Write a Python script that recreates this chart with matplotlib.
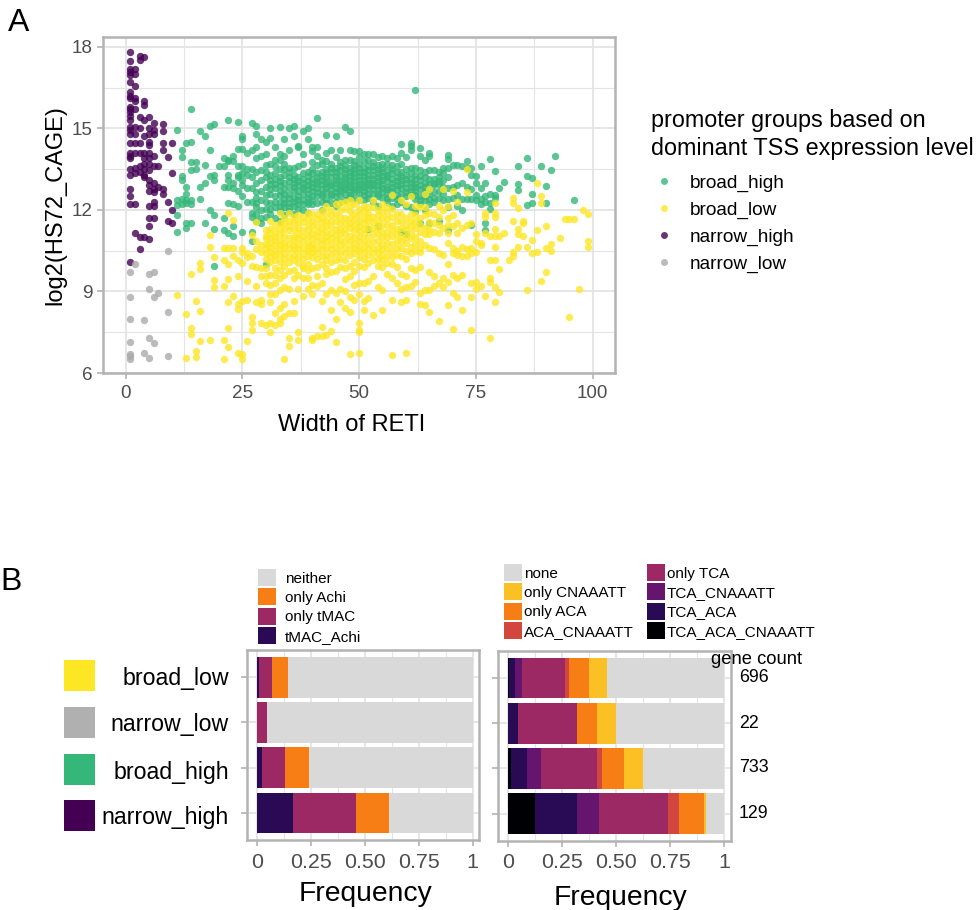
import matplotlib
matplotlib.use("Agg")
import matplotlib.pyplot as plt
from matplotlib.lines import Line2D
from matplotlib.patches import Patch, Rectangle

plt.rcParams['font.family'] = ['Liberation Sans', 'DejaVu Sans']

W, H = 980, 910

# ---------- scatter data: width of RETI -> log2(HS72_CAGE) values ----------
broad_high = {
 11:[14.94,12.37,12.18,11.8,11.2], 12:[14.2,13.96,12.4,12.2,13.25,13.1],
 13:[14.47,12.85,12.6,12.37,12.25,11.5,11.35], 14:[15.7,14.49,13.75,13.45,12.37,12.2,11.5],
 15:[13.75,13.5], 16:[14.9,12.85,12.4], 17:[14.7,13.65,13.0,11.5], 18:[15.1,14.2,13.25,12.0],
 19:[15.15,13.3,13.1,11.8,11.3,9.95], 20:[13.6], 21:[13.6,13.9,11.7,11.25,12.85],
 22:[15.3,13.85,13.8,13.3,13.1,12.85,12.25,11.15], 23:[14.0,13.8,13.0,12.8,12.2,11.4,11.05],
 24:[15.25,14.25,13.6,13.3,13.2,12.7,12.15], 25:[14.7,14.6,14.25,13.6,13.35,13.1,12.9,12.5,11.2],
 26:[14.1,13.5,13.3,12.8,12.3], 27:[15.2,14.2,13.5,13.2,12.8,12.3,11.9,11.75,11.2,10.85],
 28:[15.1,14.8,14.3,13.9,13.4,13.0,12.45,12.25,11.85,11.6,12.65,12.1], 29:[14.6,14.0,13.1,12.7,12.0,11.7,11.5,13.45,12.35],
 30:[14.5,14.05,13.65,13.2,12.85,12.55,12.05,11.75,10.0,13.4,12.3], 31:[15.0,14.65,13.7,13.3,12.95,12.6,12.25,11.85,13.1,12.75,12.05],
 32:[14.3,13.85,13.6,13.15,12.8,12.5,12.1,11.7,13.35,12.95,12.3], 33:[15.05,14.05,13.85,13.5,13.2,12.9,12.55,12.3,11.95,11.6,13.05,12.7,12.1],
 34:[14.6,14.0,13.7,13.3,13.0,12.75,12.4,12.1,11.8,13.5,12.6,12.25], 35:[15.0,14.2,13.55,13.2,12.85,12.6,12.25,11.95,13.4,13.05,12.45,12.1],
 36:[15.1,14.7,13.3,13.0,12.7,12.45,12.15,11.85,13.55,13.15,12.85,12.3], 37:[14.35,14.3,13.6,13.2,12.9,12.5,12.2,13.05,12.7,12.35,12.05],
 38:[14.9,14.05,13.7,13.35,12.85,12.6,12.35,12.0,13.15,13.0,12.75,12.2], 39:[15.0,14.6,13.4,13.05,12.75,12.45,12.2,11.9,13.25,12.9,12.6,12.3],
 40:[14.3,14.15,13.75,13.35,13.0,12.7,12.5,12.2,13.5,13.15,12.85,12.35], 41:[15.37,14.3,14.0,13.35,13.05,12.8,12.5,12.25,13.65,13.2,12.95,12.65],
 42:[13.7,13.4,13.1,12.75,12.5,12.3,12.0,13.85,13.25,12.95,12.6], 43:[14.75,14.1,13.8,13.5,13.2,12.95,12.65,12.4,13.35,13.05,12.8,12.25],
 44:[14.2,13.7,13.4,13.0,12.75,12.5,12.25,13.55,13.2,12.9,12.6], 45:[14.7,13.95,13.55,13.25,13.0,12.8,12.5,12.3,13.4,13.1,12.65,12.15],
 46:[14.2,13.75,13.45,13.05,12.8,12.55,12.3,13.6,13.25,12.95,12.7], 47:[15.05,13.65,13.35,13.1,12.85,12.6,12.35,13.85,13.5,13.2,12.95,12.75],
 48:[14.9,14.2,13.85,13.55,13.25,12.95,12.7,12.45,13.4,13.1,12.85,12.55], 49:[14.15,13.8,13.5,13.2,12.9,12.65,12.4,13.65,13.35,13.05,12.75],
 50:[14.15,13.95,13.7,13.4,13.1,12.85,12.6,12.35,13.55,13.25,12.95,12.75], 51:[14.05,13.8,13.55,13.25,12.95,12.7,12.35,13.4,13.1,12.85,12.55],
 52:[14.05,13.85,13.6,13.3,13.0,12.75,12.45,11.3,13.45,13.15,12.9,12.6], 53:[14.05,13.75,13.45,13.15,12.9,12.6,12.3,13.6,13.3,13.0,12.75],
 54:[13.95,13.65,13.35,13.05,12.75,12.5,12.15,11.4,13.5,13.2,12.9,12.6], 55:[14.0,13.7,13.4,13.1,12.8,12.45,13.55,13.25,12.95,12.65],
 56:[13.7,13.45,13.2,12.85,12.6,12.3,13.9,13.3,13.05,12.75,12.45], 57:[14.0,13.65,13.35,13.0,12.7,12.45,12.15,13.5,13.15,12.85],
 58:[13.9,13.6,13.2,12.9,12.55,12.2,13.4,13.05,12.75,12.4], 59:[14.44,14.1,13.7,13.25,12.95,12.6,12.3,11.2,13.4,13.1,12.8],
 60:[13.95,13.5,13.15,12.8,12.5,12.15,11.1,13.3,13.0,12.65], 61:[14.47,14.35,14.2,13.55,13.15,12.85,12.55,12.1,13.35,13.0,12.7],
 62:[16.42,13.55,13.3,12.95,12.7,12.4,11.95,13.15,12.85,12.55], 63:[14.27,14.0,13.45,13.1,12.75,12.5,12.2,11.5,13.25,12.9,12.35],
 64:[13.85,13.4,13.0,12.7,12.35,12.0,13.2,12.85,12.5], 65:[14.1,14.0,13.45,13.15,12.95,12.75,12.4,11.5,12.6,12.2],
 66:[13.45,13.15,12.9,12.65,12.3,13.0,12.45], 67:[13.4,13.2,12.95,12.45,11.6,13.05,12.7], 68:[13.55,13.35,13.1,12.6,12.35,12.85],
 69:[14.02,13.87,13.55,13.2,12.8,12.4,12.1,11.25], 70:[13.65,12.85,12.45], 71:[13.65,12.9,12.55,12.15],
 72:[13.63,13.0,12.4,12.0], 73:[13.8,13.55,12.85,12.4], 74:[13.55,13.3,12.75,12.4,11.45],
 75:[13.25,13.0,12.55,12.35], 76:[13.63,12.8,12.4,12.2], 77:[12.98,12.5,12.3,11.5,11.26],
 78:[13.87,12.6,12.25,12.03], 79:[13.42,12.55,12.43], 80:[12.8], 81:[13.02],
 84:[13.63,12.94,12.73], 86:[13.9,13.26,12.17], 87:[13.16,12.6,12.27], 89:[13.63],
 90:[12.86,12.27], 91:[13.45], 92:[13.97], 96:[12.38],
}
broad_low = {
 11:[8.87], 13:[8.17,6.55], 14:[9.64,7.65,7.45], 15:[8.66,6.8,6.6], 16:[10.04,9.82,8.27,7.18],
 18:[11.06,10.65,7.2], 19:[10.25,9.43,9.18], 21:[10.6,10.17,9.2,7.2,6.5],
 22:[11.9,10.6,10.0,9.45,8.6,7.65,6.95], 23:[11.63,10.6,10.3,8.85], 24:[10.15,9.55,8.55,8.35,6.75],
 25:[10.6,10.45,10.05,8.65,6.7,6.5], 26:[10.4,10.25,9.4,8.7,7.18], 27:[11.08,10.3,9.95,8.05,7.85,7.6],
 28:[11.55,10.55,9.9,9.2,8.6,10.85], 29:[10.45,9.85,9.55,8.7,8.55,7.85,10.7],
 30:[11.25,10.75,10.6,9.85,9.55,9.3,7.75,11.05,10.95,10.4,10.2],
 31:[11.6,10.95,10.8,10.45,10.1,9.6,9.25,8.9,8.6,7.85,7.5,11.3,11.15,10.65,10.3],
 32:[10.9,10.5,10.15,9.6,9.3,8.9,8.2,7.75,11.45,11.2,11.0,10.7,10.35,9.85],
 33:[11.9,11.1,10.85,10.55,10.1,9.5,9.05,8.4,8.0,7.85,11.5,11.3,10.7,10.35,9.8],
 34:[11.3,10.8,10.65,9.95,9.6,9.15,8.55,8.1,6.5,11.7,11.5,11.05,10.4,10.2],
 35:[11.9,11.25,10.95,10.55,10.1,9.75,9.1,8.2,7.3,7.0,11.6,11.4,10.75,10.3],
 36:[11.55,11.05,10.7,10.35,9.8,9.5,8.65,8.2,11.75,11.3,10.9,10.55,10.15],
 37:[11.8,11.1,10.75,10.05,9.6,9.1,7.5,7.2,11.55,11.35,10.95,10.55,10.3],
 38:[11.75,11.25,10.85,10.6,9.85,9.5,8.85,11.55,11.05,10.4,10.2,9.95],
 39:[11.65,11.25,10.8,10.5,9.5,9.1,11.9,11.45,11.05,10.65,10.3,10.0,9.8],
 40:[11.4,11.15,10.75,10.45,9.85,9.25,8.9,7.3,7.2,11.85,11.6,10.95,10.6,10.25],
 41:[11.85,11.4,11.05,10.6,10.2,9.2,7.35,11.65,11.2,10.85,10.4,9.9,9.55],
 42:[11.7,11.35,10.9,10.55,10.0,9.3,8.65,7.7,7.35,11.95,11.55,11.15,10.75,10.3],
 43:[12.15,11.6,11.2,10.85,10.15,9.65,8.9,7.4,11.85,11.4,11.0,10.6,10.35,9.85],
 44:[11.6,11.15,10.75,10.35,9.7,9.05,8.3,7.55,12.0,11.8,11.4,10.95,10.55,10.1],
 45:[12.2,11.85,11.3,10.9,10.4,9.75,8.95,8.0,7.15,11.6,11.1,10.65,10.15],
 46:[12.25,11.5,11.1,10.7,10.2,9.9,9.1,8.6,12.0,11.75,11.3,10.9,10.45],
 47:[12.3,11.7,11.3,10.85,10.4,9.45,9.0,8.4,12.05,11.5,11.1,10.65,10.15,9.85],
 48:[12.35,11.95,11.35,11.05,10.6,9.95,9.55,8.8,8.25,6.7,12.15,11.7,11.5,10.85,10.35],
 49:[11.85,11.45,11.0,10.6,9.75,9.25,8.7,12.2,11.65,11.25,10.8,10.4,10.1],
 50:[12.35,12.05,11.6,11.25,10.85,10.5,9.95,9.3,8.9,7.85,7.6,7.5,6.73,11.85,11.4,11.05,10.65,10.25],
 51:[12.15,11.7,11.3,10.85,10.45,9.9,9.3,8.65,8.3,11.95,11.5,11.1,10.65,10.2],
 52:[11.9,11.6,11.05,10.6,10.05,9.4,8.75,12.1,11.75,11.35,10.8,10.35],
 53:[12.35,11.75,11.35,10.85,10.4,9.55,8.15,12.1,11.55,11.1,10.6,10.15],
 54:[12.0,11.55,11.1,10.6,10.2,9.95,9.15,11.8,11.35,10.85,10.4],
 55:[11.95,11.45,11.0,10.55,10.15,9.9,9.05,8.3,12.2,11.7,11.2,10.75,10.35],
 56:[12.1,11.65,11.2,10.8,10.3,9.65,11.9,11.45,11.0,10.55,10.05],
 57:[12.55,12.05,11.45,11.05,10.5,10.0,9.5,8.7,6.66,11.75,11.25,10.75,10.25],
 58:[11.85,11.3,10.85,10.35,9.9,9.3,11.6,11.1,10.6],
 59:[12.35,11.6,11.05,10.6,9.65,9.1,8.6,11.85,11.35,10.85,10.3],
 60:[12.2,11.7,11.25,10.8,10.2,9.55,9.15,8.67,6.73,11.45,11.0,10.5],
 61:[12.5,11.85,11.4,10.95,10.4,9.85,9.2,11.6,11.15,10.65],
 62:[11.8,11.35,11.0,10.5,9.8,9.35,12.15,11.55,10.75],
 63:[12.1,11.2,10.85,10.45,9.9,8.95,8.55,11.7,11.45,10.6],
 64:[12.6,12.1,11.1,10.7,9.05,8.5,11.8,11.35],
 65:[12.75,11.9,11.3,10.6,9.7,9.05,8.25,11.55,11.1],
 66:[11.85,11.2,10.55,9.55,9.2,11.5], 67:[12.15,11.75,11.15,10.4,9.3,7.9,11.45],
 68:[12.75,12.0,11.35,10.35,9.5,9.15], 69:[12.15,11.7,11.15,10.8,10.0,9.35,8.5,11.45],
 70:[12.7,11.4,10.6,10.4,9.6,8.95,7.63,11.8], 71:[12.3,11.5,10.5,10.35,9.5,8.8,11.15],
 72:[11.35,10.65,10.3,9.6,8.3], 73:[13.5,12.65,11.45,10.55,10.3],
 74:[11.5,10.6,10.4,9.3,8.8,7.6], 75:[11.1,10.85,10.45,9.35,9.1], 76:[10.8,10.7,9.2],
 77:[11.9,11.75,11.15,8.85], 78:[11.05,10.17,9.5,9.33,7.3], 79:[12.27,11.9,11.75,11.3,11.05,10.65,10.14,9.15,8.6],
 80:[11.05,9.83,8.97], 81:[11.15], 82:[10.17], 83:[12.45,12.25,11.6,10.45,10.3], 84:[12.06,11.3,11.1,10.65],
 85:[11.6,11.5,11.05], 86:[10.65,9.05], 87:[10.9,10.4], 88:[13.0,11.25,10.45], 89:[12.5,12.27,9.4],
 90:[11.4,10.6,9.7], 91:[10.75,10.47], 93:[10.95], 94:[11.65], 95:[11.65,8.05], 96:[11.65], 97:[9.1],
 98:[12.0], 99:[11.85,10.85,10.65],
}
narrow_high = {
 1:[17.82,17.47,17.2,17.08,16.97,16.7,16.35,16.2,16.1,15.8,15.7,15.6,15.45,15.3,15.05,14.95,14.8,14.45,14.1,14.0,13.9,13.5,13.3,12.75,12.5,12.2,10.1],
 2:[17.2,17.0,16.55,16.1,16.0,15.72,15.05,14.8,14.45,14.1,13.55,13.35,12.2,11.15],
 3:[17.65,17.5,15.4,15.0,14.45,14.1,13.6,13.4,11.0,10.55],
 4:[17.62,16.0,15.85,15.3,14.7,14.1,13.9,13.7,13.5,13.3,13.2,11.0],
 5:[15.4,15.0,14.8,14.5,14.4,14.1,13.9,13.7,13.45,13.1,12.9,12.7,12.15,11.7,11.4,10.93],
 6:[15.2,14.95,14.8,14.0,13.6,13.0,12.75,12.65,12.3,12.15,11.7],
 7:[13.6,12.85], 8:[15.15,14.9,14.45,14.2,12.75,12.6], 9:[13.95,12.3,11.6], 10:[14.45,13.35,12.0,11.5],
}
narrow_low = {
 1:[9.7,8.79,7.98,7.14,6.71,6.61,6.53], 2:[10.02], 4:[7.94,6.73], 5:[9.65,9.09,7.29,6.55],
 6:[9.7,8.78,7.1], 7:[8.94], 9:[10.47,8.24,6.61],
}
group_names = ['broad_high', 'broad_low', 'narrow_high', 'narrow_low']
group_colors = ['#35b779', '#fde725', '#440154', '#aaaaaa']
x_ticks = [0, 25, 50, 75, 100]
y_ticks = [6, 9, 12, 15, 18]

# ---------- stacked bars ----------
row_labels = ['narrow_high', 'broad_high', 'narrow_low', 'broad_low']
row_colors = ['#440154', '#35b779', '#b0b0b0', '#fde725']
gene_counts = [129, 733, 22, 696]
freq_ticks = [0, 0.25, 0.5, 0.75, 1]
freq_labels = ['0', '0.25', '0.50', '0.75', '1']

left_names = ['tMAC_Achi', 'only tMAC', 'only Achi', 'neither']
left_colors = ['#2a0a55', '#9c2963', '#f67e14', '#d9d9d9']
tmac_achi = [0.165, 0.022, 0.0, 0.008]
only_tmac = [0.293, 0.106, 0.045, 0.060]
only_achi = [0.153, 0.112, 0.0, 0.076]
neither = [0.389, 0.760, 0.955, 0.856]
left_values = [tmac_achi, only_tmac, only_achi, neither]

right_names = ['TCA_ACA_CNAAATT', 'TCA_ACA', 'TCA_CNAAATT', 'only TCA',
               'ACA_CNAAATT', 'only ACA', 'only CNAAATT', 'none']
right_colors = ['#000004', '#280b54', '#65156e', '#9c2963',
                '#d3463e', '#f67e14', '#fbc024', '#d9d9d9']
tca_aca_cn = [0.125, 0.014, 0.0, 0.004]
tca_aca = [0.195, 0.074, 0.046, 0.024]
tca_cn = [0.098, 0.061, 0.0, 0.037]
only_tca = [0.320, 0.260, 0.274, 0.195]
aca_cn = [0.051, 0.023, 0.0, 0.019]
only_aca = [0.117, 0.102, 0.089, 0.093]
only_cn = [0.009, 0.088, 0.091, 0.083]
none_ = [0.085, 0.378, 0.500, 0.545]
right_values = [tca_aca_cn, tca_aca, tca_cn, only_tca, aca_cn, only_aca, only_cn, none_]

GRID = '#e4e4e4'
BORDER = '#b3b3b3'
TICK = '#4d4d4d'

fig = plt.figure(figsize=(W / 100, H / 100), dpi=100, facecolor='white')

def make_ax(x0, x1, ytop, ybot):
    return fig.add_axes([x0 / W, 1 - ybot / H, (x1 - x0) / W, (ybot - ytop) / H])

def style(ax, lw=1.8):
    ax.set_axisbelow(True)
    for s in ax.spines.values():
        s.set_color(BORDER)
        s.set_linewidth(lw)
    ax.grid(True, which='major', color=GRID, lw=1.3)
    ax.grid(True, which='minor', color=GRID, lw=0.8)

# ---------- panel A ----------
ax = make_ax(102.7, 615, 36.7, 373)
style(ax)
groups = [broad_high, broad_low, narrow_high, narrow_low]
handles = []
for data, name, col in zip(groups, group_names, group_colors):
    xs = [x for x, ys in data.items() for _ in ys]
    ys = [y for v in data.values() for y in v]
    ax.scatter(xs, ys, s=28, color=col, alpha=0.8, linewidths=0, zorder=3)
    handles.append(Line2D([], [], ls='', marker='o', ms=5, mew=0, color=col, alpha=0.8, label=name))
ax.set_xlim(-4.93, 104.8)
ax.set_ylim(6.0, 18.37)
ax.set_xticks(x_ticks)
ax.set_yticks(y_ticks)
ax.set_xticks([12.5, 37.5, 62.5, 87.5], minor=True)
ax.set_yticks([7.5, 10.5, 13.5, 16.5], minor=True)
ax.tick_params(which='minor', length=0)
ax.tick_params(axis='x', which='major', length=4, color=BORDER, width=1.2, labelsize=13.6, labelcolor=TICK, pad=5)
ax.tick_params(axis='y', which='major', length=4, color=BORDER, width=1.2, labelsize=13.6, labelcolor=TICK, pad=3)
ax.set_xlabel('Width of RETI', fontsize=17, color='black', labelpad=8, x=0.4856)
ax.set_ylabel('log2(HS72_CAGE)', fontsize=17, color='black', labelpad=4)
leg = fig.legend(handles=handles, loc='upper left', bbox_to_anchor=(645 / W, 1 - 103 / H),
                 bbox_transform=fig.transFigure, frameon=False, fontsize=13.7,
                 title='promoter groups based on\ndominant TSS expression level',
                 title_fontsize=16.8, alignment='left', labelspacing=0.5, handletextpad=0.64,
                 handlelength=1.4, borderpad=0.3, borderaxespad=0)
leg.get_title().set_linespacing(1.3)
leg._legend_box.sep = 10
fig.text(8 / W, 1 - 31 / H, 'A', fontsize=23, color='black')
fig.text(0 / W, 1 - 590 / H, 'B', fontsize=23, color='black')

# ---------- panel B ----------
def bars(ax, values, colors, names):
    pos = [1, 2, 3, 4]
    left = [0, 0, 0, 0]
    for vals, col, name in zip(values, colors, names):
        ax.barh(pos, vals, left=left, height=0.9, color=col, linewidth=0, zorder=3, label=name)
        left = [a + b for a, b in zip(left, vals)]
    ax.set_xticks(freq_ticks)
    ax.set_xticklabels(freq_labels)
    ax.set_xticks([0.125, 0.375, 0.625, 0.875], minor=True)
    ax.set_yticks(pos)
    ax.set_yticklabels([])
    ax.set_ylim(0.4, 4.6)
    ax.tick_params(which='minor', length=0)
    ax.tick_params(which='major', length=4, color=BORDER, width=1.2, labelsize=15.4, labelcolor=TICK, pad=5)

axl = make_ax(246.7, 479, 650, 840)
style(axl)
bars(axl, left_values, left_colors, left_names)
axl.set_xlim(-0.049, 1.03)
axl.set_xlabel('Frequency', fontsize=20.3, color='black', labelpad=7, x=0.511)
axr = make_ax(497.7, 731, 651, 840.7)
style(axr)
bars(axr, right_values, right_colors, right_names)
axr.set_xlim(-0.05, 1.032)
axr.set_xlabel('Frequency', fontsize=20.3, color='black', labelpad=9, x=0.526)

def patches(names, colors):
    return [Patch(color=c, label=n, lw=0) for n, c in zip(names, colors)]

fig.legend(handles=patches(left_names[::-1], left_colors[::-1]), loc='upper left',
           bbox_to_anchor=(258 / W, 1 - 569 / H), bbox_transform=fig.transFigure, frameon=False,
           fontsize=11, handlelength=1.18, handleheight=1.32, labelspacing=0.17,
           handletextpad=0.57, borderpad=0, borderaxespad=0)
r_names = right_names[::-1]
r_cols = right_colors[::-1]
fig.legend(handles=patches(r_names, r_cols), loc='upper left', ncols=2,
           bbox_to_anchor=(504 / W, 1 - 564 / H), bbox_transform=fig.transFigure, frameon=False,
           fontsize=11, handlelength=1.18, handleheight=1.32, labelspacing=0.17,
           handletextpad=0.1, columnspacing=0.9, borderpad=0, borderaxespad=0)

# row labels with colour keys, gene counts
key_centres = [815.3, 769.3, 722.3, 675.3]
label_centres = [817.5, 772, 725, 678]
count_centres = [813.5, 768, 723, 677]
for lab, col, cnt, yk, yl, yc in zip(row_labels, row_colors, gene_counts,
                                     key_centres, label_centres, count_centres):
    fig.add_artist(Rectangle((64 / W, 1 - (yk + 15.5) / H), 31 / W, 31 / H, color=col, lw=0,
                             transform=fig.transFigure))
    fig.text(229 / W, 1 - yl / H, lab, ha='right', va='center', fontsize=16.7, color='black')
    fig.text(739 / W, 1 - yc / H, str(cnt), ha='left', va='center', fontsize=12.8, color='black')
fig.text(711 / W, 1 - 659 / H, 'gene count', ha='left', va='center', fontsize=13.2, color='black')

fig.savefig('out.png', dpi=100, facecolor='white')
